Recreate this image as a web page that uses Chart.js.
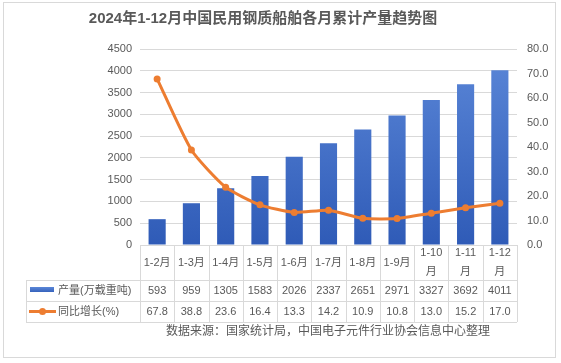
<!DOCTYPE html>
<html>
<head>
<meta charset="utf-8">
<script src="https://cdn.jsdelivr.net/npm/chart.js@4.4.1/dist/chart.umd.min.js"></script>
<style>
  html, body { margin: 0; padding: 0; background: #fff; }
  #wrap { width: 561px; height: 363px; position: relative; }
</style>
</head>
<body>
<div id="wrap"><canvas id="chart" width="561" height="363"></canvas></div>
<script>
const title = '2024年1-12月中国民用钢质船舶各月累计产量趋势图';
const source = '数据来源：国家统计局，中国电子元件行业协会信息中心整理';
const categories = ['1-2月', '1-3月', '1-4月', '1-5月', '1-6月', '1-7月', '1-8月', '1-9月', '1-10月', '1-11月', '1-12月'];
const output = [593, 959, 1305, 1583, 2026, 2337, 2651, 2971, 3327, 3692, 4011];
const growth = [67.8, 38.8, 23.6, 16.4, 13.3, 14.2, 10.9, 10.8, 13.0, 15.2, 17.0];
const outputLabel = '产量(万载重吨)';
const growthLabel = '同比增长(%)';

const FONT = '"Liberation Sans", "Noto Sans CJK SC", sans-serif';
const GREY = '#595959';
const LINE = '#d9d9d9';

function barGradient(ctx, top, bottom) {
    const g = ctx.createLinearGradient(0, top, 0, bottom);
    g.addColorStop(0, '#5b87d8');
    g.addColorStop(1, '#2f5bb7');
    return g;
}

// frame, title, data table and source line
const decor = {
    id: 'decor',
    beforeDraw(chart) {
        const c = chart.ctx;
        c.save();
        c.fillStyle = '#fff';
        c.fillRect(0, 0, chart.width, chart.height);
        c.strokeStyle = LINE;
        c.lineWidth = 1;
        c.strokeRect(3.5, 2.5, 552, 355);
        c.fillStyle = GREY;
        c.font = 'bold 15px ' + FONT;
        c.textAlign = 'center';
        c.textBaseline = 'middle';
        c.fillText(title, 263, 19);
        c.restore();
    },
    afterDraw(chart) {
        const c = chart.ctx;
        const area = chart.chartArea;
        const x = chart.scales.x;
        const colW = area.width / categories.length;
        const yTop = area.bottom;
        const r1 = 280, r2 = 301, r3 = 322;
        const legLeft = 26;

        c.save();
        c.strokeStyle = LINE;
        c.lineWidth = 1;
        c.beginPath();
        [r1, r2, r3].forEach(y => {
            c.moveTo(legLeft, y + 0.5);
            c.lineTo(area.right, y + 0.5);
        });
        for (let i = 0; i <= categories.length; i++) {
            const px = Math.round(area.left + i * colW) + 0.5;
            c.moveTo(px, yTop);
            c.lineTo(px, r3);
        }
        c.moveTo(legLeft + 0.5, r1);
        c.lineTo(legLeft + 0.5, r3);
        c.stroke();

        c.fillStyle = GREY;
        c.font = '11px ' + FONT;
        c.textAlign = 'center';
        c.textBaseline = 'middle';
        categories.forEach((lab, i) => {
            const cx = x.getPixelForValue(i);
            if (c.measureText(lab).width > colW - 4) {
                c.fillText(lab.slice(0, -1), cx, 253);
                c.fillText(lab.slice(-1), cx, 272);
            } else {
                c.fillText(lab, cx, 263);
            }
            c.fillText(String(output[i]), cx, 291);
            c.fillText(growth[i].toFixed(1), cx, 312);
        });

        // legend keys
        c.fillStyle = barGradient(c, 287, 293);
        c.fillRect(30, 287, 24, 5);
        c.strokeStyle = '#ed7d31';
        c.lineWidth = 3;
        c.beginPath();
        c.moveTo(29, 311.5);
        c.lineTo(56, 311.5);
        c.stroke();
        c.fillStyle = '#ed7d31';
        c.beginPath();
        c.arc(42.5, 311.5, 3.5, 0, Math.PI * 2);
        c.fill();

        c.fillStyle = GREY;
        c.textAlign = 'left';
        c.fillText(outputLabel, 58, 291);
        c.fillText(growthLabel, 58, 312);

        c.textAlign = 'center';
        c.font = '12px ' + FONT;
        c.fillText(source, 328, 332);
        c.restore();
    }
};

const ctx = document.getElementById('chart').getContext('2d');
const chart = new Chart(ctx, {
    type: 'bar',
    data: {
        labels: categories,
        datasets: [
            {
                type: 'line',
                label: growthLabel,
                data: growth,
                yAxisID: 'y1',
                borderColor: '#ed7d31',
                backgroundColor: '#ed7d31',
                borderWidth: 3,
                pointRadius: 3.5,
                pointHoverRadius: 3.5,
                pointBorderWidth: 0,
                tension: 0.2,
                order: 0
            },
            {
                label: outputLabel,
                data: output,
                yAxisID: 'y',
                backgroundColor: (c) => {
                    const a = c.chart.chartArea;
                    if (!a) return '#4472c4';
                    return barGradient(c.chart.ctx, a.top, a.bottom);
                },
                barPercentage: 0.5,
                categoryPercentage: 1,
                order: 1
            }
        ]
    },
    options: {
        responsive: false,
        animation: false,
        layout: { padding: { left: 0, right: 0, top: 49, bottom: 118 } },
        plugins: {
            legend: { display: false },
            title: { display: false },
            tooltip: { enabled: false }
        },
        scales: {
            x: {
                grid: { display: false },
                border: { display: true, color: LINE },
                ticks: { display: false },
                afterFit: (s) => { s.height = 0; }
            },
            y: {
                position: 'left',
                min: 0,
                max: 4500,
                ticks: {
                    stepSize: 500,
                    padding: 8,
                    color: GREY,
                    font: { family: FONT, size: 11 },
                    callback: (v) => String(v)
                },
                grid: { color: LINE, drawTicks: false },
                border: { display: false },
                afterFit: (s) => { s.width = 140; }
            },
            y1: {
                position: 'right',
                min: 0,
                max: 80,
                ticks: {
                    stepSize: 10,
                    padding: 10,
                    color: GREY,
                    font: { family: FONT, size: 11 },
                    callback: (v) => Number(v).toFixed(1)
                },
                grid: { display: false, drawTicks: false },
                border: { display: false },
                afterFit: (s) => { s.width = 44; }
            }
        }
    },
    plugins: [decor]
});
</script>
</body>
</html>
